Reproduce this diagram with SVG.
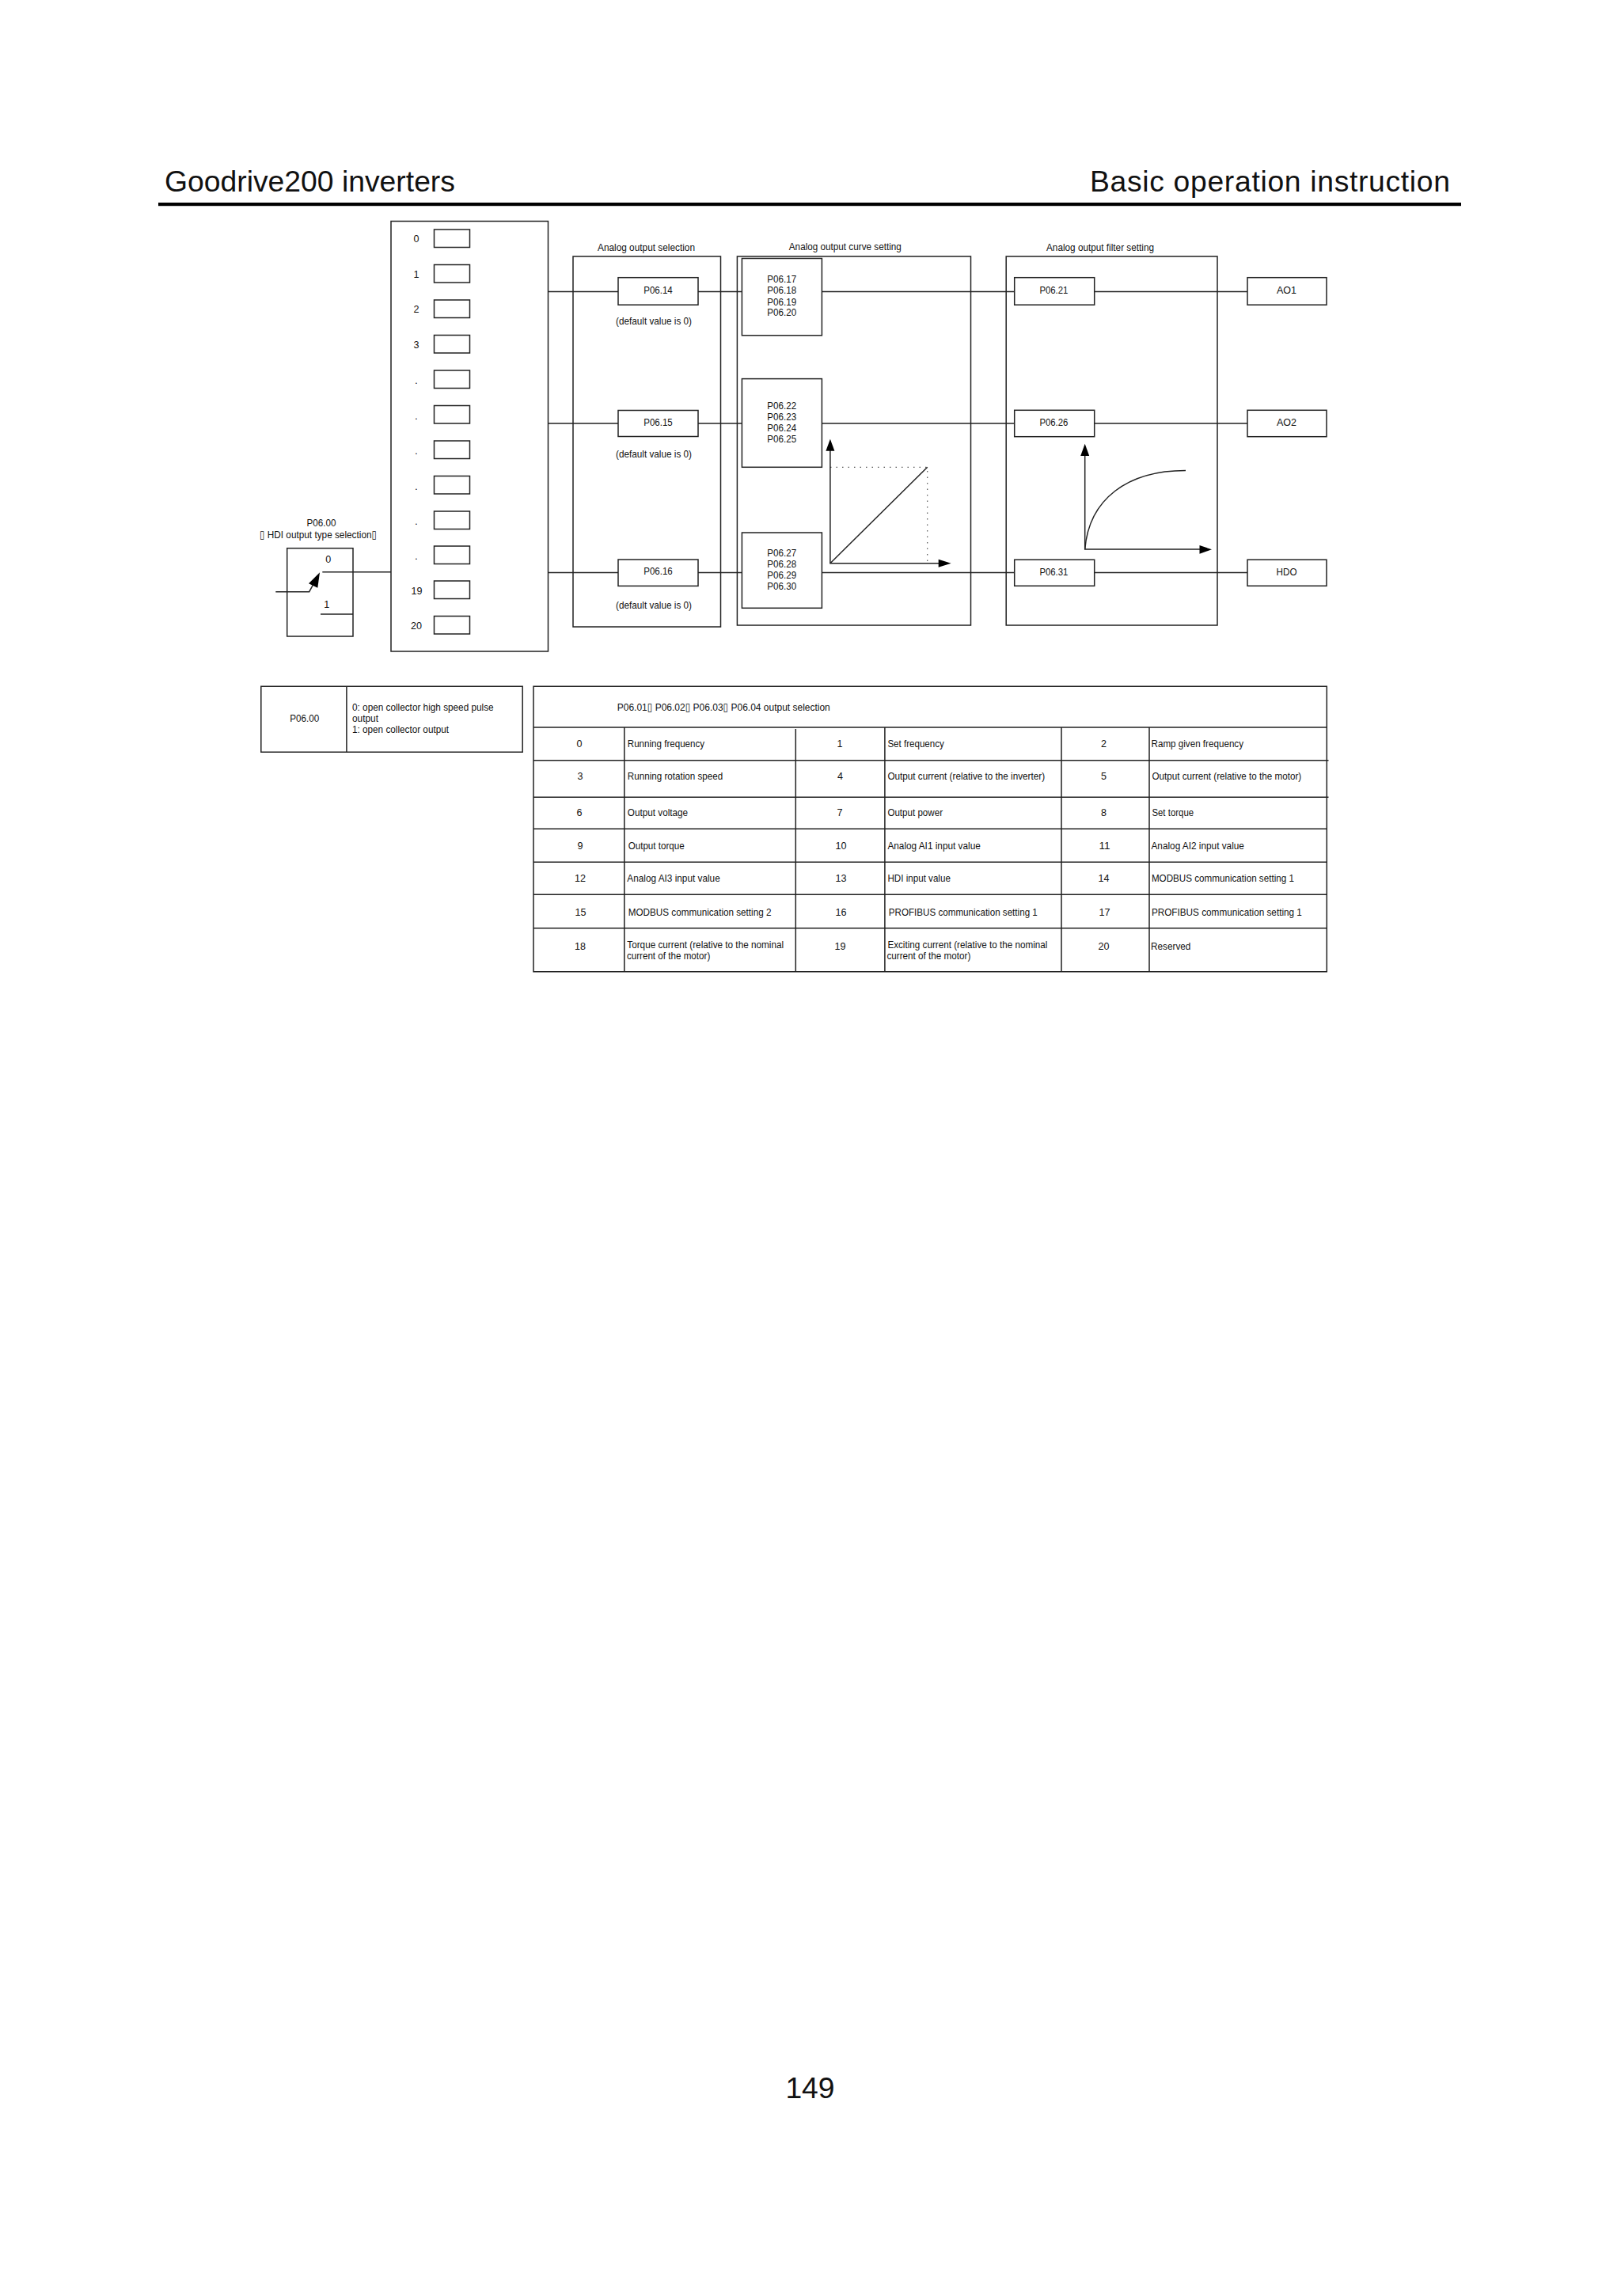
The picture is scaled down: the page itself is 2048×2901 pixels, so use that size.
<svg xmlns="http://www.w3.org/2000/svg" width="2048" height="2901" viewBox="0 0 2048 2901">
<defs>
<style>
text{font-family:"Liberation Sans",Arial,"DejaVu Sans",sans-serif;fill:#111}
.t{font-size:13.5px}
.c{text-anchor:middle}
.h{font-size:37.3px}
.b{fill:#fff;stroke:#222;stroke-width:1.5}
.l{fill:none;stroke:#222;stroke-width:1.5}
.g{fill:none;stroke:#222;stroke-width:1.5}
.d{fill:none;stroke:#555;stroke-width:1.2;stroke-dasharray:1.5 6}
.a{fill:#000;stroke:none}
</style>
</defs>
<rect width="2048" height="2901" fill="#fff"/>
<g id="page-header">
<text class="h" x="208" y="241.7">Goodrive200 inverters</text>
<text class="h" x="1377" y="241.7" textLength="455">Basic operation instruction</text>
<rect x="200" y="256" width="1646" height="4.2" fill="#000"/>
</g>
<g id="source-list">
<rect class="b" x="494" y="279.5" width="198.5" height="543.5"/>
<rect class="b" x="548.5" y="290" width="45" height="22.5"/>
<rect class="b" x="548.5" y="334.5" width="45" height="22.5"/>
<rect class="b" x="548.5" y="379" width="45" height="22.5"/>
<rect class="b" x="548.5" y="423.5" width="45" height="22.5"/>
<rect class="b" x="548.5" y="468" width="45" height="22.5"/>
<rect class="b" x="548.5" y="512.5" width="45" height="22.5"/>
<rect class="b" x="548.5" y="557" width="45" height="22.5"/>
<rect class="b" x="548.5" y="601.5" width="45" height="22.5"/>
<rect class="b" x="548.5" y="646" width="45" height="22.5"/>
<rect class="b" x="548.5" y="690" width="45" height="22.5"/>
<rect class="b" x="548.5" y="734" width="45" height="22.5"/>
<rect class="b" x="548.5" y="778.5" width="45" height="22.5"/>
<text class="t c" x="526" y="306" textLength="7" lengthAdjust="spacingAndGlyphs">0</text>
<text class="t c" x="526" y="350.5" textLength="7" lengthAdjust="spacingAndGlyphs">1</text>
<text class="t c" x="526" y="395" textLength="7" lengthAdjust="spacingAndGlyphs">2</text>
<text class="t c" x="526" y="439.5" textLength="7" lengthAdjust="spacingAndGlyphs">3</text>
<text class="t c" x="526" y="485">.</text>
<text class="t c" x="526" y="529.5">.</text>
<text class="t c" x="526" y="574">.</text>
<text class="t c" x="526" y="618.5">.</text>
<text class="t c" x="526" y="663">.</text>
<text class="t c" x="526" y="706.5">.</text>
<text class="t c" x="526.5" y="750.5" textLength="14" lengthAdjust="spacingAndGlyphs">19</text>
<text class="t c" x="526" y="794.5" textLength="14" lengthAdjust="spacingAndGlyphs">20</text>
</g>
<g id="hdi-switch">
<rect class="b" x="362.7" y="692.7" width="83.3" height="111.3"/>
<text class="t c" x="406" y="664.8" textLength="37" lengthAdjust="spacingAndGlyphs">P06.00</text>
<text class="t c" x="402" y="679.6" textLength="148" lengthAdjust="spacingAndGlyphs">▯ HDI output type selection▯</text>
<text class="t c" x="414.7" y="710.7" textLength="7" lengthAdjust="spacingAndGlyphs">0</text>
<text class="t c" x="412.7" y="767.7" textLength="7" lengthAdjust="spacingAndGlyphs">1</text>
<path class="l" d="M348.3 747.7H390.7L396 738"/>
<path class="l" d="M405 776H446"/>
<path class="a" d="M404 723.3L390 737.3L401.3 742.7Z"/>
</g>
<g id="analog-output-selection">
<rect class="b" x="724" y="324" width="186.5" height="468"/>
<text class="t c" x="816.5" y="317.4" textLength="123" lengthAdjust="spacingAndGlyphs">Analog output selection</text>
<text class="t c" x="826" y="410" textLength="96" lengthAdjust="spacingAndGlyphs">(default value is 0)</text>
<text class="t c" x="826" y="577.8" textLength="96" lengthAdjust="spacingAndGlyphs">(default value is 0)</text>
<text class="t c" x="826" y="768.5" textLength="96" lengthAdjust="spacingAndGlyphs">(default value is 0)</text>
</g>
<g id="analog-output-curve">
<rect class="b" x="931.4" y="324" width="295.1" height="466"/>
<text class="t c" x="1067.8" y="315.5" textLength="142" lengthAdjust="spacingAndGlyphs">Analog output curve setting</text>
</g>
<g id="analog-output-filter">
<rect class="b" x="1271.2" y="324" width="266.8" height="466"/>
<text class="t c" x="1390" y="317" textLength="136" lengthAdjust="spacingAndGlyphs">Analog output filter setting</text>
</g>
<g id="connectors">
<path class="l" d="M446 722.7H494"/>
<path class="l" d="M407.3 722.7H446"/>
<path class="l" d="M692.5 368.5H781M882 368.5H937.4M1038.4 368.5H1281.7M1382.7 368.5H1576"/>
<path class="l" d="M692.5 535H781M882 535H937.4M1038.4 535H1281.7M1382.7 535H1576"/>
<path class="l" d="M692.5 723.5H781M882 723.5H937.4M1038.4 723.5H1281.7M1382.7 723.5H1576"/>
</g>
<g id="p06-14"><rect class="b" x="781" y="350.7" width="101" height="34.5"/><text class="t c" x="831.5" y="371" textLength="36.5" lengthAdjust="spacingAndGlyphs">P06.14</text></g>
<g id="p06-15"><rect class="b" x="781" y="518.5" width="101" height="33"/><text class="t c" x="831.5" y="537.8" textLength="36.5" lengthAdjust="spacingAndGlyphs">P06.15</text></g>
<g id="p06-16"><rect class="b" x="781" y="707" width="101" height="33.4"/><text class="t c" x="831.5" y="726" textLength="36.5" lengthAdjust="spacingAndGlyphs">P06.16</text></g>
<g id="p06-17-20"><rect class="b" x="937.4" y="326.5" width="101" height="97.3"/>
<text class="t c" x="987.7" y="357.2" textLength="36.8" lengthAdjust="spacingAndGlyphs">P06.17</text>
<text class="t c" x="987.7" y="371.4" textLength="36.8" lengthAdjust="spacingAndGlyphs">P06.18</text>
<text class="t c" x="987.7" y="385.5" textLength="36.8" lengthAdjust="spacingAndGlyphs">P06.19</text>
<text class="t c" x="987.7" y="399.3" textLength="36.8" lengthAdjust="spacingAndGlyphs">P06.20</text></g>
<g id="p06-22-25"><rect class="b" x="937.4" y="478.6" width="101" height="111.7"/>
<text class="t c" x="987.7" y="516.5" textLength="36.8" lengthAdjust="spacingAndGlyphs">P06.22</text>
<text class="t c" x="987.7" y="530.7" textLength="36.8" lengthAdjust="spacingAndGlyphs">P06.23</text>
<text class="t c" x="987.7" y="544.8" textLength="36.8" lengthAdjust="spacingAndGlyphs">P06.24</text>
<text class="t c" x="987.7" y="558.6" textLength="36.8" lengthAdjust="spacingAndGlyphs">P06.25</text></g>
<g id="p06-27-30"><rect class="b" x="937.4" y="673" width="101" height="95.3"/>
<text class="t c" x="987.7" y="702.8" textLength="36.8" lengthAdjust="spacingAndGlyphs">P06.27</text>
<text class="t c" x="987.7" y="716.9" textLength="36.8" lengthAdjust="spacingAndGlyphs">P06.28</text>
<text class="t c" x="987.7" y="731.4" textLength="36.8" lengthAdjust="spacingAndGlyphs">P06.29</text>
<text class="t c" x="987.7" y="745.2" textLength="36.8" lengthAdjust="spacingAndGlyphs">P06.30</text></g>
<g id="p06-21"><rect class="b" x="1281.7" y="350.7" width="101" height="34.5"/><text class="t c" x="1331.4" y="371.4" textLength="36" lengthAdjust="spacingAndGlyphs">P06.21</text></g>
<g id="p06-26"><rect class="b" x="1281.7" y="518.3" width="101" height="33.4"/><text class="t c" x="1331.4" y="538" textLength="36" lengthAdjust="spacingAndGlyphs">P06.26</text></g>
<g id="p06-31"><rect class="b" x="1281.7" y="707.2" width="101" height="33.1"/><text class="t c" x="1331.4" y="726.5" textLength="36" lengthAdjust="spacingAndGlyphs">P06.31</text></g>
<g id="ao1"><rect class="b" x="1576" y="350.7" width="100" height="34.5"/><text class="t c" x="1625.5" y="371.4" textLength="25" lengthAdjust="spacingAndGlyphs">AO1</text></g>
<g id="ao2"><rect class="b" x="1576" y="518.3" width="100" height="33.4"/><text class="t c" x="1625.5" y="538" textLength="25" lengthAdjust="spacingAndGlyphs">AO2</text></g>
<g id="hdo"><rect class="b" x="1576" y="707.2" width="100" height="33.1"/><text class="t c" x="1625.5" y="726.5" textLength="26" lengthAdjust="spacingAndGlyphs">HDO</text></g>
<g id="curve-chart">
<path class="d" d="M1049 590.3H1171.7V711.7"/>
<path class="g" d="M1048.9 569V711.7H1186"/>
<path class="g" d="M1048.9 711.7L1171.7 590.3"/>
<path class="a" d="M1048.9 554.8L1043.4 569.7H1054.4Z"/>
<path class="a" d="M1201.6 711.7L1185.7 706.7V716.7Z"/>
</g>
<g id="filter-chart">
<path class="g" d="M1370.7 575V694.1H1516"/>
<path class="g" d="M1370.7 694.1C1376 630 1425 594.5 1498 594.5"/>
<path class="a" d="M1370.7 560.7L1365.2 575.9H1376.2Z"/>
<path class="a" d="M1531 694.3L1515.5 689V699.7Z"/>
</g>
<g id="table-p06-00">
<path class="l" d="M329.8 867.3H660.2V950.3H329.8ZM437.9 867.3V950.3"/>
<text class="t c" x="384.7" y="911.7" textLength="37" lengthAdjust="spacingAndGlyphs">P06.00</text>
<text class="t" x="445" y="897.7" textLength="178.6" lengthAdjust="spacingAndGlyphs">0: open collector high speed pulse</text>
<text class="t" x="445" y="911.7" textLength="33" lengthAdjust="spacingAndGlyphs">output</text>
<text class="t" x="445" y="925.7" textLength="122" lengthAdjust="spacingAndGlyphs">1: open collector output</text>
</g>
<g id="table-output-selection">
<path class="l" d="M674 867.3H1676.3V1227.7H674ZM674 919H1676.3M674 960.7H1678.5M674 1007.3H1678.5M674 1047.3H1676.3M674 1089.3H1676.3M674 1130.3H1676.3M674 1172.7H1676.3"/>
<path class="l" d="M788.8 919V1227.7M1005.3 921V1227.7M1117.9 919V1227.7M1341 919V1227.7M1452 919V1227.7"/>
<text class="t" x="779.8" y="897.7" textLength="269" lengthAdjust="spacingAndGlyphs">P06.01▯ P06.02▯ P06.03▯ P06.04 output selection</text>
<text class="t c" x="732" y="944.3" textLength="7" lengthAdjust="spacingAndGlyphs">0</text>
<text class="t" x="792.8" y="944.3" textLength="97.3" lengthAdjust="spacingAndGlyphs">Running frequency</text>
<text class="t c" x="1061" y="944.3" textLength="7" lengthAdjust="spacingAndGlyphs">1</text>
<text class="t" x="1121.4" y="944.3" textLength="71.4" lengthAdjust="spacingAndGlyphs">Set frequency</text>
<text class="t c" x="1394.6" y="944.3" textLength="7" lengthAdjust="spacingAndGlyphs">2</text>
<text class="t" x="1454.5" y="944.3" textLength="116.5" lengthAdjust="spacingAndGlyphs">Ramp given frequency</text>
<text class="t c" x="733" y="985.3" textLength="7" lengthAdjust="spacingAndGlyphs">3</text>
<text class="t" x="792.8" y="985.3" textLength="120.5" lengthAdjust="spacingAndGlyphs">Running rotation speed</text>
<text class="t c" x="1061.6" y="985.3" textLength="7" lengthAdjust="spacingAndGlyphs">4</text>
<text class="t" x="1121.4" y="985.3" textLength="198.7" lengthAdjust="spacingAndGlyphs">Output current (relative to the inverter)</text>
<text class="t c" x="1394.6" y="985.3" textLength="7" lengthAdjust="spacingAndGlyphs">5</text>
<text class="t" x="1455.4" y="985.3" textLength="188.8" lengthAdjust="spacingAndGlyphs">Output current (relative to the motor)</text>
<text class="t c" x="732" y="1031.3" textLength="7" lengthAdjust="spacingAndGlyphs">6</text>
<text class="t" x="792.8" y="1031.3" textLength="76.3" lengthAdjust="spacingAndGlyphs">Output voltage</text>
<text class="t c" x="1061" y="1031.3" textLength="7" lengthAdjust="spacingAndGlyphs">7</text>
<text class="t" x="1121.4" y="1031.3" textLength="69.6" lengthAdjust="spacingAndGlyphs">Output power</text>
<text class="t c" x="1394.6" y="1031.3" textLength="7" lengthAdjust="spacingAndGlyphs">8</text>
<text class="t" x="1455.4" y="1031.3" textLength="52.7" lengthAdjust="spacingAndGlyphs">Set torque</text>
<text class="t c" x="733" y="1073.3" textLength="7" lengthAdjust="spacingAndGlyphs">9</text>
<text class="t" x="793.7" y="1073.3" textLength="71" lengthAdjust="spacingAndGlyphs">Output torque</text>
<text class="t c" x="1062.5" y="1073.3" textLength="14" lengthAdjust="spacingAndGlyphs">10</text>
<text class="t" x="1121.4" y="1073.3" textLength="117.4" lengthAdjust="spacingAndGlyphs">Analog AI1 input value</text>
<text class="t c" x="1395.5" y="1073.3" textLength="14" lengthAdjust="spacingAndGlyphs">11</text>
<text class="t" x="1454.5" y="1073.3" textLength="117.4" lengthAdjust="spacingAndGlyphs">Analog AI2 input value</text>
<text class="t c" x="733" y="1114.3" textLength="14" lengthAdjust="spacingAndGlyphs">12</text>
<text class="t" x="792.3" y="1114.3" textLength="117.4" lengthAdjust="spacingAndGlyphs">Analog AI3 input value</text>
<text class="t c" x="1062.5" y="1114.3" textLength="14" lengthAdjust="spacingAndGlyphs">13</text>
<text class="t" x="1121.4" y="1114.3" textLength="79.5" lengthAdjust="spacingAndGlyphs">HDI input value</text>
<text class="t c" x="1394.6" y="1114.3" textLength="14" lengthAdjust="spacingAndGlyphs">14</text>
<text class="t" x="1454.9" y="1114.3" textLength="180" lengthAdjust="spacingAndGlyphs">MODBUS communication setting 1</text>
<text class="t c" x="733.5" y="1156.7" textLength="14" lengthAdjust="spacingAndGlyphs">15</text>
<text class="t" x="793.7" y="1156.7" textLength="180.8" lengthAdjust="spacingAndGlyphs">MODBUS communication setting 2</text>
<text class="t c" x="1062.5" y="1156.7" textLength="14" lengthAdjust="spacingAndGlyphs">16</text>
<text class="t" x="1122.8" y="1156.7" textLength="188" lengthAdjust="spacingAndGlyphs">PROFIBUS communication setting 1</text>
<text class="t c" x="1395.5" y="1156.7" textLength="14" lengthAdjust="spacingAndGlyphs">17</text>
<text class="t" x="1454.9" y="1156.7" textLength="190" lengthAdjust="spacingAndGlyphs">PROFIBUS communication setting 1</text>
<text class="t c" x="733" y="1199.7" textLength="14" lengthAdjust="spacingAndGlyphs">18</text>
<text class="t" x="792.3" y="1197.7" textLength="197.8" lengthAdjust="spacingAndGlyphs">Torque current (relative to the nominal</text>
<text class="t" x="791.9" y="1211.7" textLength="105.4" lengthAdjust="spacingAndGlyphs">current of the motor)</text>
<text class="t c" x="1061.6" y="1199.7" textLength="14" lengthAdjust="spacingAndGlyphs">19</text>
<text class="t" x="1121.4" y="1197.7" textLength="202" lengthAdjust="spacingAndGlyphs">Exciting current (relative to the nominal</text>
<text class="t" x="1120.5" y="1211.7" textLength="105.8" lengthAdjust="spacingAndGlyphs">current of the motor)</text>
<text class="t c" x="1394.6" y="1199.7" textLength="14" lengthAdjust="spacingAndGlyphs">20</text>
<text class="t" x="1454" y="1199.7" textLength="50.4" lengthAdjust="spacingAndGlyphs">Reserved</text>
</g>
<g id="page-number"><text class="h c" x="1023.5" y="2651">149</text></g>
</svg>
